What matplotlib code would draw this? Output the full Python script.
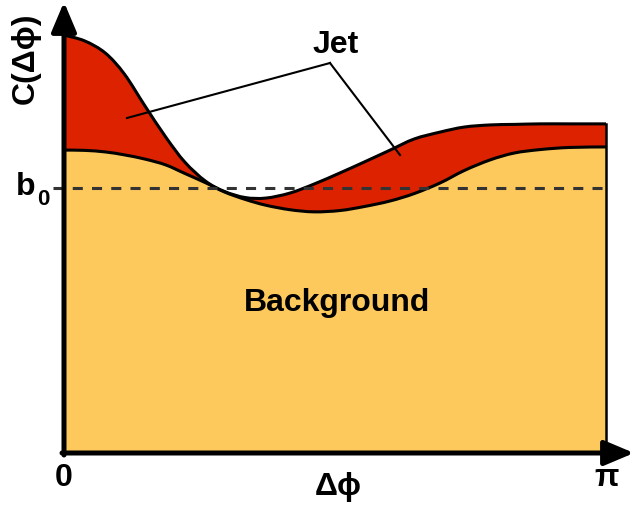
"""
Schematic of a two-particle correlation C(dphi): flat-ish background
(modulated around b0) with a jet contribution stacked on top.
"""

import numpy as np
import matplotlib
matplotlib.use("Agg")
import matplotlib.pyplot as plt
from matplotlib.path import Path
from matplotlib.patches import PathPatch

plt.rcParams["font.family"] = ["Liberation Sans", "DejaVu Sans"]
plt.rcParams["font.weight"] = "bold"

# ── Values (b0 = 1) ───────────────────────────────────────────────────────────

PI = np.pi
dphi = [0.0, 0.12, 0.24, 0.35, 0.47, 0.59, 0.70, 0.82, 0.93, 1.05, 1.17, 1.31,
        1.45, 1.60, 1.74, 1.89, 2.03, 2.18, 2.32, 2.47, 2.61, 2.76, 2.93, PI]
background = [1.143, 1.142, 1.136, 1.125, 1.109, 1.087, 1.055, 1.020, 0.985,
              0.957, 0.935, 0.918, 0.910, 0.915, 0.930, 0.951, 0.979, 1.019,
              1.066, 1.106, 1.132, 1.145, 1.153, 1.155]
total = [1.577, 1.555, 1.509, 1.430, 1.309, 1.192, 1.098, 1.026, 0.987,
         0.964, 0.962, 0.981, 1.015, 1.057, 1.098, 1.143, 1.185, 1.211,
         1.230, 1.238, 1.240, 1.242, 1.242, 1.242]
b0 = 1.0

ORANGE = "#FEC95C"
RED = "#DD2200"


def px(x, y):
    """Pixel position in the 635x508 frame -> data coordinates."""
    return (x - 64) / 542 * PI, (453 - y) / 265


def bezier_through(x, y):
    """Catmull-Rom curve through the points, as cubic Bezier vertices."""
    pts = np.column_stack([x, y])
    ext = np.vstack([pts[0], pts, pts[-1]])
    verts = [pts[0]]
    for i in range(len(pts) - 1):
        p0, p1, p2, p3 = ext[i], ext[i + 1], ext[i + 2], ext[i + 3]
        verts += [p1 + (p2 - p0) / 6, p2 - (p3 - p1) / 6, p2]
    codes = [Path.MOVETO] + [Path.CURVE4] * (len(verts) - 1)
    return np.array(verts), codes


# ── Figure ────────────────────────────────────────────────────────────────────

fig = plt.figure(figsize=(6.35, 5.08), dpi=100)
ax = fig.add_axes([0, 0, 1, 1])
ax.set_xlim(px(0, 0)[0], px(635, 0)[0])
ax.set_ylim(px(0, 508)[1], px(0, 0)[1])
ax.axis("off")

bg_v, bg_c = bezier_through(dphi, background)
tot_v, tot_c = bezier_through(dphi, total)

# background area
v = np.vstack([bg_v, [[dphi[-1], 0], [dphi[0], 0], [0, 0]]])
c = bg_c + [Path.LINETO, Path.LINETO, Path.CLOSEPOLY]
ax.add_patch(PathPatch(Path(v, c), facecolor=ORANGE, lw=0, zorder=1))

# jet area between the two curves
v = np.vstack([tot_v, bg_v[::-1], [[0, 0]]])
c = tot_c + [Path.LINETO] + [Path.CURVE4] * (len(bg_v) - 1) + [Path.CLOSEPOLY]
ax.add_patch(PathPatch(Path(v, c), facecolor=RED, lw=0, zorder=1))

for verts, codes in ((tot_v, tot_c), (bg_v, bg_c)):
    ax.add_patch(PathPatch(Path(verts, codes), facecolor="none",
                           edgecolor="black", lw=2.2, zorder=3))
ax.plot([PI, PI], [0, total[-1]], color="black", lw=1.8, zorder=3)

# b0 reference line
x0, _ = px(53, 0)
x1, _ = px(603, 0)
ax.plot([x0, x1], [b0, b0], color="#333333", lw=2.2,
        ls=(0, (3.3, 3.0)), zorder=4)

# axes with arrow heads
arrow = dict(arrowstyle="-|>,head_length=0.9,head_width=0.38",
             color="black", lw=3.6, shrinkA=0, shrinkB=0,
             mutation_scale=20)
ax.annotate("", xy=px(64, 2), xytext=px(64, 455), arrowprops=arrow, zorder=5)
ax.annotate("", xy=px(634, 453), xytext=px(62, 453), arrowprops=arrow, zorder=5)

# jet leader lines
vx, vy = px(330, 63)
for ex, ey in (px(127, 118), px(400, 155)):
    ax.plot([vx, ex], [vy, ey], color="black", lw=1.5, zorder=4)

# ── Labels ────────────────────────────────────────────────────────────────────

fs = 23
ax.text(*px(336, 45), "Jet", fontsize=fs, ha="center", va="center")
ax.text(*px(337, 303), "Background", fontsize=fs, ha="center", va="center")
ax.text(*px(26, 58), "C(Δϕ)", fontsize=fs, ha="center", va="center",
        rotation=90)
ax.text(*px(64, 478), "0", fontsize=fs, ha="center", va="center")
ax.text(*px(607, 478), "π", fontsize=fs, ha="center", va="center")
ax.text(*px(338, 487), "Δϕ", fontsize=fs, ha="center", va="center")
ax.text(*px(36, 195), "b", fontsize=fs, ha="right", va="baseline")
ax.text(*px(37, 205), "0", fontsize=16, ha="left", va="baseline")

fig.savefig("out.png", dpi=100)
